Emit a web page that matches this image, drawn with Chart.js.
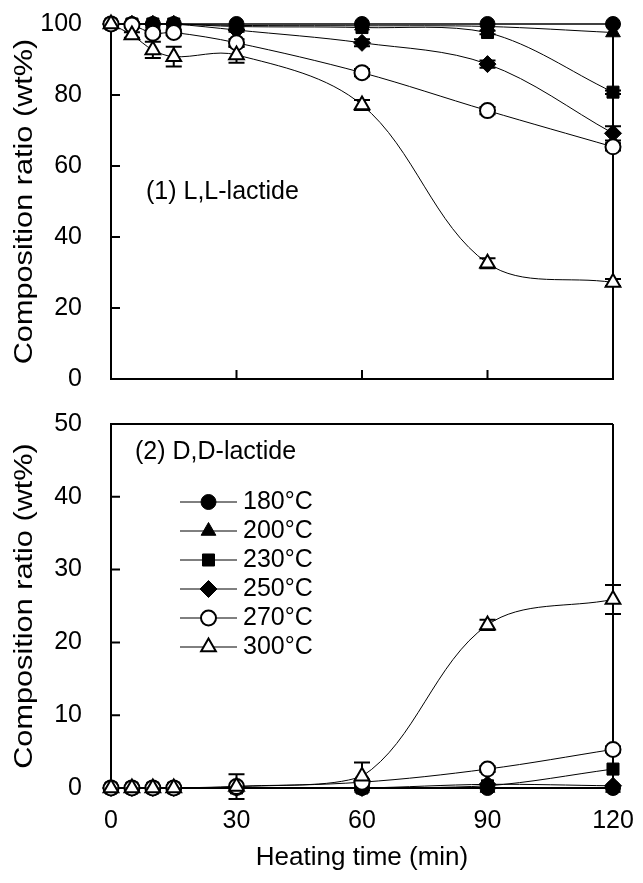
<!DOCTYPE html>
<html>
<head>
<meta charset="utf-8">
<script src="https://cdn.jsdelivr.net/npm/chart.js@4.4.0/dist/chart.umd.min.js"></script>
<style>
  html, body { margin: 0; padding: 0; background: #fff; }
  #wrap { position: relative; width: 643px; height: 883px; background: #fff; }
  canvas { position: absolute; left: 0; }
  #llChart { top: 0; }
  #ddChart { top: 400px; }
</style>
</head>
<body>
<div id="wrap">
  <canvas id="llChart" width="643" height="400"></canvas>
  <canvas id="ddChart" width="643" height="483"></canvas>
</div>
<script>
// Heating time (min) and temperatures
const times = [0, 5, 10, 15, 30, 60, 90, 120];
const temps = ['180°C', '200°C', '230°C', '250°C', '270°C', '300°C'];

// (1) L,L-lactide composition ratio (wt%)
const ll180 = [100, 100, 100, 100, 100, 100, 100, 100];
const ll200 = [100, 100, 100, 100, 99.6, 99.5, 99.3, 97.6];
const ll230 = [100, 100, 100, 100, 99.3, 99.0, 97.6, 80.8];
const ll250 = [100, 100, 100, 100, 98.3, 94.7, 88.7, 69.2];
const ll270 = [100, 99.7, 97.4, 97.6, 94.7, 86.3, 75.6, 65.4];
const ll300 = [100, 96.9, 92.7, 90.8, 91.3, 77.2, 32.6, 27.2];
const ll230Err = [0, 0, 0, 0, 0, 0, 0.5, 0.5];
const ll250Err = [0, 0, 0, 0, 0.5, 1, 1, 2];
const ll270Err = [0, 0.5, 0.8, 0.8, 1, 1, 1, 1];
const ll300Err = [0, 0.8, 2.3, 2.8, 2.2, 1.4, 1.4, 1];

// (2) D,D-lactide composition ratio (wt%)
const dd180 = [0, 0, 0, 0, 0, 0, 0, 0];
const dd200 = [0, 0, 0, 0, 0, 0, 0, 0];
const dd230 = [0, 0, 0, 0, 0, 0, 0.3, 2.6];
const dd250 = [0, 0, 0, 0, 0, 0, 0.5, 0.3];
const dd270 = [0, 0, 0, 0, 0.2, 0.8, 2.6, 5.3];
const dd300 = [0, 0, 0, 0, 0.2, 1.6, 22.4, 25.9];
const dd270Err = [0, 0, 0, 0, 0, 0.3, 0.4, 0.4];
const dd300Err = [0, 0, 0, 0, 1.7, 1.9, 0.7, 2.0];

const FONT = "'Liberation Sans', Arial, sans-serif";
Chart.defaults.font.family = FONT;
Chart.defaults.font.size = 25;
Chart.defaults.color = '#000';

// marker look per temperature
const markers = [
  { pointStyle: 'circle',   radius: 7.5, fill: '#000', bw: 1 },
  { pointStyle: 'triangle', radius: 8.5, fill: '#000', bw: 1 },
  { pointStyle: 'rect',     radius: 8.5, fill: '#000', bw: 1 },
  { pointStyle: 'rectRot',  radius: 8.5, fill: '#000', bw: 1 },
  { pointStyle: 'circle',   radius: 7.5, fill: '#fff', bw: 2 },
  { pointStyle: 'triangle', radius: 8.5, fill: '#fff', bw: 2 }
];

function buildDatasets(series, errors) {
  return series.map((vals, i) => ({
    label: temps[i],
    data: times.map((t, k) => ({ x: t, y: vals[k] })),
    errors: errors[i],
    borderColor: '#000',
    borderWidth: i === 0 ? 1.5 : 1,
    tension: 0.35,
    pointStyle: markers[i].pointStyle,
    pointRadius: markers[i].radius,
    pointBackgroundColor: markers[i].fill,
    pointBorderColor: '#000',
    pointBorderWidth: markers[i].bw,
    order: series.length - i,
    clip: false
  }));
}

// boxed frame, inward ticks, error bars, rotated y title, panel label and legend
const panelDecor = {
  id: 'panelDecor',
  beforeDatasetsDraw(chart, args, opts) {
    const { ctx, chartArea: a, scales: { x, y } } = chart;
    ctx.save();
    ctx.strokeStyle = '#000';
    ctx.lineWidth = 2;
    ctx.beginPath();
    ctx.moveTo(a.right, a.bottom);
    ctx.lineTo(a.right, a.top);
    if (opts.boxTop) {
      ctx.moveTo(a.left, a.top);
      ctx.lineTo(a.right, a.top);
    }
    y.ticks.forEach(t => {
      const py = y.getPixelForValue(t.value);
      ctx.moveTo(a.left, py);
      ctx.lineTo(a.left + 9, py);
    });
    x.ticks.forEach(t => {
      const px = x.getPixelForValue(t.value);
      ctx.moveTo(px, a.bottom);
      ctx.lineTo(px, a.bottom - 9);
    });
    ctx.stroke();

    // error bars sit behind the markers
    chart.data.datasets.forEach((ds, di) => {
      if (!ds.errors) return;
      const meta = chart.getDatasetMeta(di);
      ds.errors.forEach((e, k) => {
        if (!e) return;
        const pt = meta.data[k];
        const v = ds.data[k].y;
        const y1 = y.getPixelForValue(v + e);
        const y2 = y.getPixelForValue(v - e);
        ctx.beginPath();
        ctx.moveTo(pt.x, y1); ctx.lineTo(pt.x, y2);
        ctx.moveTo(pt.x - 8, y1); ctx.lineTo(pt.x + 8, y1);
        ctx.moveTo(pt.x - 8, y2); ctx.lineTo(pt.x + 8, y2);
        ctx.stroke();
      });
    });
    ctx.restore();
  },
  afterDraw(chart, args, opts) {
    const { ctx, chartArea: a } = chart;
    ctx.save();
    ctx.fillStyle = '#000';

    // y axis title, drawn a little stretched along its length
    ctx.save();
    ctx.translate(25, (a.top + a.bottom) / 2);
    ctx.rotate(-Math.PI / 2);
    ctx.scale(1.18, 1);
    ctx.font = '26px ' + FONT;
    ctx.textAlign = 'center';
    ctx.textBaseline = 'middle';
    ctx.fillText(opts.yTitle, 0, 0);
    ctx.restore();

    ctx.font = '25px ' + FONT;
    ctx.textAlign = 'left';
    ctx.textBaseline = 'middle';
    ctx.fillText(opts.label, opts.labelX, opts.labelY);

    if (opts.legend) {
      const L = opts.legend;
      chart.data.datasets.forEach((ds, i) => {
        const ly = L.y + i * L.gap;
        ctx.strokeStyle = '#000';
        ctx.lineWidth = 1;
        ctx.beginPath();
        ctx.moveTo(L.x0, ly);
        ctx.lineTo(L.x1, ly);
        ctx.stroke();
        ctx.fillStyle = ds.pointBackgroundColor;
        ctx.lineWidth = ds.pointBorderWidth;
        Chart.helpers.drawPoint(ctx, {
          pointStyle: ds.pointStyle,
          radius: ds.pointRadius,
          borderWidth: ds.pointBorderWidth,
          rotation: 0
        }, (L.x0 + L.x1) / 2, ly);
        ctx.fillStyle = '#000';
        ctx.fillText(ds.label, L.tx, ly);
      });
    }
    ctx.restore();
  }
};

function panelOptions(yMax, yStep, showX, decor) {
  return {
    responsive: false,
    devicePixelRatio: 1,
    animation: false,
    events: [],
    layout: { padding: { top: 24, right: 30, bottom: 0, left: 0 } },
    plugins: {
      legend: { display: false },
      tooltip: { enabled: false },
      panelDecor: decor
    },
    scales: {
      x: {
        type: 'linear',
        min: 0,
        max: 120,
        grid: { display: false, drawTicks: false, tickLength: 0 },
        border: { display: true, color: '#000', width: 2 },
        ticks: { display: showX, stepSize: 30, padding: 18, maxRotation: 0 },
        title: {
          display: showX,
          text: 'Heating time (min)',
          font: { size: 26 },
          padding: { top: 0, bottom: 10 }
        },
        afterFit(scale) {
          scale.height = showX ? 95 : 21;
          scale.paddingLeft = 0;
          scale.paddingRight = 0;
        }
      },
      y: {
        min: 0,
        max: yMax,
        grid: { display: false, drawTicks: false, tickLength: 0 },
        border: { display: true, color: '#000', width: 2 },
        ticks: { stepSize: yStep, padding: 29 },
        afterFit(scale) {
          scale.width = 111;
          // label room is already in the layout padding
          scale.paddingTop = 0;
          scale.paddingBottom = 0;
        }
      }
    }
  };
}

new Chart(document.getElementById('llChart'), {
  type: 'line',
  data: {
    datasets: buildDatasets(
      [ll180, ll200, ll230, ll250, ll270, ll300],
      [null, null, ll230Err, ll250Err, ll270Err, ll300Err]
    )
  },
  options: panelOptions(100, 20, false, {
    boxTop: false,
    yTitle: 'Composition ratio (wt%)',
    label: '(1) L,L-lactide',
    labelX: 146,
    labelY: 192
  }),
  plugins: [panelDecor]
});

new Chart(document.getElementById('ddChart'), {
  type: 'line',
  data: {
    datasets: buildDatasets(
      [dd180, dd200, dd230, dd250, dd270, dd300],
      [null, null, null, null, dd270Err, dd300Err]
    )
  },
  options: panelOptions(50, 10, true, {
    boxTop: true,
    yTitle: 'Composition ratio (wt%)',
    label: '(2) D,D-lactide',
    labelX: 135,
    labelY: 52,
    legend: { x0: 180, x1: 237, tx: 243, y: 102, gap: 29 }
  }),
  plugins: [panelDecor]
});
</script>
</body>
</html>
